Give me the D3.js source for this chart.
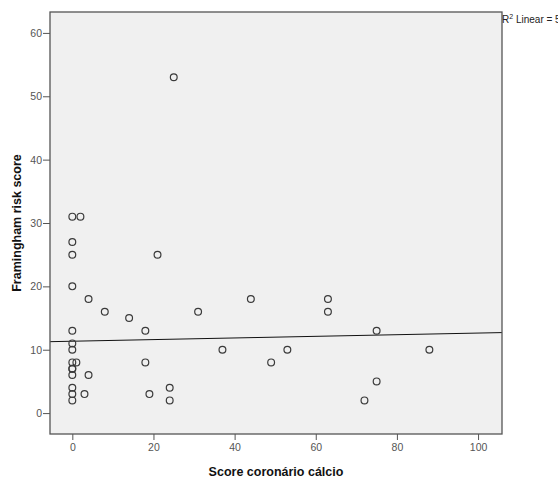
<!DOCTYPE html>
<html>
<head>
<meta charset="utf-8">
<script src="https://cdn.jsdelivr.net/npm/d3@7"></script>
<style>
  html, body { margin: 0; padding: 0; background: #fff; }
  svg { display: block; }
  text { font-family: Arial, "Liberation Sans", sans-serif; }
</style>
</head>
<body>
<svg id="chart" width="558" height="480"></svg>
<script>
// Coronary calcium score (x) against Framingham risk score (y)
const calcium = [0, 2, 0, 0, 0, 4, 8, 0, 0, 0, 0, 1, 0, 0, 0, 4, 0, 0, 3, 0,
                 25, 21, 14, 18, 31, 44, 63, 63, 75, 37, 53, 18, 49, 19, 24, 24, 88, 75, 72];
const framingham = [31, 31, 27, 25, 20, 18, 16, 13, 11, 10, 8, 8, 7, 7, 6, 6, 4, 3, 3, 2,
                    53, 25, 15, 13, 16, 18, 18, 16, 13, 10, 10, 8, 8, 3, 4, 2, 10, 5, 2];
// Fitted linear regression: [intercept, slope]
const fitLine = [11.34, 0.0129];
const xTicks = [0, 20, 40, 60, 80, 100];
const yTicks = [0, 10, 20, 30, 40, 50, 60];
const xDomain = [-5.5, 105.9];
const yDomain = [-3.3, 63.3];

const svg = d3.select("#chart");
const frame = { left: 50, top: 12, right: 502, bottom: 434 };

const x = d3.scaleLinear().domain(xDomain).range([frame.left, frame.right]);
const y = d3.scaleLinear().domain(yDomain).range([frame.bottom, frame.top]);

// plot background
svg.append("rect")
  .attr("x", frame.left).attr("y", frame.top)
  .attr("width", frame.right - frame.left).attr("height", frame.bottom - frame.top)
  .attr("fill", "#f0f0f0");

// axes
const xAxis = svg.append("g")
  .attr("transform", `translate(0,${frame.bottom})`)
  .call(d3.axisBottom(x).tickValues(xTicks).tickSize(6).tickPadding(4));
const yAxis = svg.append("g")
  .attr("transform", `translate(${frame.left},0)`)
  .call(d3.axisLeft(y).tickValues(yTicks).tickSize(7).tickPadding(1));
[xAxis, yAxis].forEach(g => {
  g.select(".domain").remove();
  g.selectAll(".tick line").attr("stroke", "#555").attr("stroke-width", 1);
  g.selectAll(".tick text").attr("fill", "#555").style("font-size", "10.5px");
});

// clip for marks inside plot
svg.append("clipPath").attr("id", "plotclip")
  .append("rect")
  .attr("x", frame.left).attr("y", frame.top)
  .attr("width", frame.right - frame.left).attr("height", frame.bottom - frame.top);

// regression line
const lineG = svg.append("g").attr("clip-path", "url(#plotclip)");
lineG.append("line")
  .attr("x1", x(xDomain[0])).attr("y1", y(fitLine[0] + fitLine[1] * xDomain[0]))
  .attr("x2", x(xDomain[1])).attr("y2", y(fitLine[0] + fitLine[1] * xDomain[1]))
  .attr("stroke", "#111").attr("stroke-width", 1);

// points
const pts = calcium.map((c, i) => ({ c, f: framingham[i] }));
svg.append("g").selectAll("circle")
  .data(pts)
  .join("circle")
  .attr("cx", d => x(d.c))
  .attr("cy", d => y(d.f))
  .attr("r", 3.4)
  .attr("fill", "none")
  .attr("stroke", "#3a3a3a")
  .attr("stroke-width", 1.2);

// frame
svg.append("rect")
  .attr("x", frame.left).attr("y", frame.top)
  .attr("width", frame.right - frame.left).attr("height", frame.bottom - frame.top)
  .attr("fill", "none").attr("stroke", "#555").attr("stroke-width", 1.3);

// axis titles
svg.append("text")
  .attr("x", (frame.left + frame.right) / 2).attr("y", 476)
  .attr("text-anchor", "middle")
  .style("font-size", "12.5px").style("font-weight", "bold").attr("fill", "#111")
  .text("Score coronário cálcio");
svg.append("text")
  .attr("transform", `translate(21,${(frame.top + frame.bottom) / 2}) rotate(-90)`)
  .attr("text-anchor", "middle")
  .style("font-size", "12.5px").style("font-weight", "bold").attr("fill", "#111")
  .text("Framingham risk score");

// fit label (runs past the right edge of the canvas)
const r2 = svg.append("text")
  .attr("x", frame.right).attr("y", 23)
  .style("font-size", "10px").attr("fill", "#222");
r2.append("tspan").text("R");
r2.append("tspan").attr("dy", -4).style("font-size", "7px").text("2");
r2.append("tspan").attr("dy", 4).text(" Linear = 5.342E-4");
</script>
</body>
</html>
